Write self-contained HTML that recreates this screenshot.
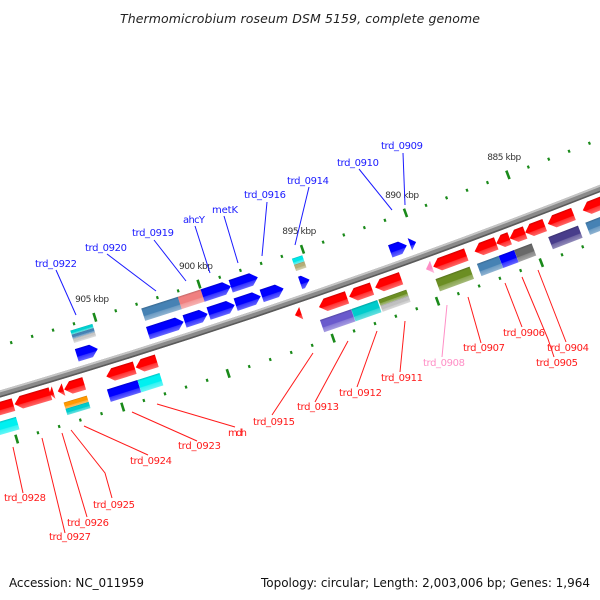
<!DOCTYPE html>
<html><head><meta charset="utf-8"><style>
html,body{margin:0;padding:0;background:#fff;width:600px;height:600px;overflow:hidden}
svg{display:block;overflow:hidden}
text{font-family:"DejaVu Sans","Liberation Sans",sans-serif}
</style></head><body>
<svg id="map" width="600" height="600" viewBox="0 0 600 600" xmlns="http://www.w3.org/2000/svg">
<defs id="defs"></defs>
<rect width="600" height="600" fill="#fff"/>
<text x="300" y="23" text-anchor="middle" font-size="12.5" font-style="italic" fill="#222" textLength="360">Thermomicrobium roseum DSM 5159, complete genome</text>
<g id="ticks"></g>
<g id="backbone"></g>
<g id="genes"></g>
<g id="labels" font-size="10">
<g stroke="#1a1aff" stroke-width="1" fill="none">
<line x1="56" y1="270" x2="76" y2="315"/>
<line x1="107" y1="254" x2="156" y2="291"/>
<line x1="154" y1="240" x2="186" y2="281"/>
<line x1="195" y1="226" x2="210" y2="273"/>
<line x1="224" y1="216" x2="238" y2="263"/>
<line x1="267" y1="202" x2="262" y2="256"/>
<line x1="309" y1="187" x2="295" y2="245"/>
<line x1="359" y1="169" x2="392" y2="210"/>
<line x1="403" y1="153" x2="405" y2="205"/>
</g>
<g fill="#1a1aff">
<text x="35" y="267" textLength="42">trd_0922</text>
<text x="85" y="251" textLength="42">trd_0920</text>
<text x="132" y="236" textLength="42">trd_0919</text>
<text x="183" y="223" textLength="22">ahcY</text>
<text x="212" y="213" textLength="26">metK</text>
<text x="244" y="198" textLength="42">trd_0916</text>
<text x="287" y="184" textLength="42">trd_0914</text>
<text x="337" y="166" textLength="42">trd_0910</text>
<text x="381" y="149" textLength="42">trd_0909</text>
</g>
<g stroke="#ff1a1a" stroke-width="1" fill="none">
<line x1="13" y1="447" x2="23" y2="493"/>
<line x1="42" y1="438" x2="65" y2="533"/>
<line x1="62" y1="433" x2="87" y2="517"/>
<polyline points="71,430 105,473 112,498"/>
<line x1="84" y1="426" x2="148" y2="455"/>
<line x1="132" y1="412" x2="197" y2="441"/>
<line x1="157" y1="404" x2="235" y2="427"/>
<line x1="313" y1="353" x2="272" y2="415"/>
<line x1="348" y1="341" x2="315" y2="402"/>
<line x1="377" y1="331" x2="357" y2="387"/>
<line x1="405" y1="321" x2="400" y2="372"/>
<line x1="468" y1="297" x2="481" y2="343"/>
<line x1="505" y1="283" x2="522" y2="327"/>
<polyline points="522,277 548,339 554,357"/>
<line x1="538" y1="270" x2="566" y2="342"/>
</g>
<line x1="447" y1="305" x2="442" y2="357" stroke="#ff8ec6" stroke-width="1"/>
<g fill="#ff1a1a">
<text x="4" y="501" textLength="42">trd_0928</text>
<text x="49" y="540" textLength="42">trd_0927</text>
<text x="67" y="526" textLength="42">trd_0926</text>
<text x="93" y="508" textLength="42">trd_0925</text>
<text x="130" y="464" textLength="42">trd_0924</text>
<text x="178" y="449" textLength="43">trd_0923</text>
<text x="228" y="436" textLength="19">mdh</text>
<text x="253" y="425" textLength="42">trd_0915</text>
<text x="297" y="410" textLength="42">trd_0913</text>
<text x="339" y="396" textLength="43">trd_0912</text>
<text x="381" y="381" textLength="42">trd_0911</text>
<text x="463" y="351" textLength="42">trd_0907</text>
<text x="503" y="336" textLength="42">trd_0906</text>
<text x="536" y="366" textLength="42">trd_0905</text>
<text x="547" y="351" textLength="42">trd_0904</text>
</g>
<text x="423" y="366" textLength="42" fill="#ff8ec6">trd_0908</text>
</g>
<text x="9" y="587" font-size="12" fill="#111" textLength="135">Accession: NC_011959</text>
<text x="261" y="587" font-size="12" fill="#111" textLength="329">Topology: circular; Length: 2,003,006 bp; Genes: 1,964</text>
</svg>
<script>
// genome-position data (kbp)
const tickKbp = [876,877,878,879,880,881,882,883,884,885,886,887,888,889,890,891,892,893,894,895,896,897,898,899,900,901,902,903,904,905,906,907,908,909,910,911,912,913];
const tickLabelKbp = [885,890,895,900,905];
const tickLabels = ["885 kbp","890 kbp","895 kbp","900 kbp","905 kbp"];
const geneStart = [905.3,901.2,900.05,898.75,897.5,896.4,895.15,890.45,890.0,
  905.2,901.1,900.0,898.65,897.35,895.1,
  909.7,907.95,907.8,907.33,906.35,903.95,902.9,896.0,893.8,892.6,891.2,889.7,888.05,886.6,885.95,885.2,884.25,882.85,881.0,
  909.75,906.4,904.0,902.95,893.8,892.55,891.15,888.1,886.7,885.95,885.1,882.85,881.0];
const geneEnd = [906.3,902.9,901.15,900.0,898.7,897.45,895.6,891.25,890.3,
  906.25,902.85,901.1,900.0,898.65,895.6,
  911.0,909.65,908.0,907.6,907.3,905.3,903.9,896.3,895.15,893.7,892.45,890.0,889.65,887.65,886.6,885.95,885.2,884.1,882.4,
  911.0,907.5,905.45,904.0,895.3,893.8,892.5,889.75,887.75,886.7,885.95,884.3,882.5];
const geneRow = ["ui","ui","ui","ui","ui","ui","ui","ui","ui",
  "uo","uo","uo","uo","uo","uo",
  "li","li","li","li","li","li","li","li","li","li","li","li","li","li","li","li","li","li","li",
  "lo","lo","lo","lo","lo","lo","lo","lo","lo","lo","lo","lo","lo"];
const geneShape = ["arrow","arrow","arrow","arrow","arrow","arrow","arrow","arrow","arrow",
  "box","box","box","arrow","arrow","box",
  "arrow","arrow","arrow","arrow","arrow","arrow","arrow","arrow","arrow","arrow","arrow","arrow","arrow","arrow","arrow","arrow","arrow","arrow","arrow",
  "box","box","box","box","box","box","box","box","box","box","box","box","box"];
const geneColor = ["#0000ff","#0000ff","#0000ff","#0000ff","#0000ff","#0000ff","#0000ff","#0000ff","#0000ff",
  "#00d0d0|#4682b4|#c8c8c8","#4682b4","#f08080","#0000ff","#0000ff","#00e8e8|#b5ad78",
  "#ff0000","#ff0000","#ff0000","#ff0000","#ff0000","#ff0000","#ff0000","#ff0000","#ff0000","#ff0000","#ff0000","#ff8ec6","#ff0000","#ff0000","#ff0000","#ff0000","#ff0000","#ff0000","#ff0000",
  "#00f0f0","#ff9900|#00cccc","#0000ff","#00f0f0","#6a5acd","#00cccc","#6b8e23|#c0c0c0","#6b8e23","#4682b4","#0000ff","#696969","#483d8b","#4682b4"];

const NS="http://www.w3.org/2000/svg";
const CX=-1969, CY=-6337, R0=7013, K0=900, TH0=71.87, DEG=0.1797;
const PX=R0*DEG*Math.PI/180;
const ROWV={ui:-15,uo:-34,li:14,lo:33};
const ROWDIR={ui:1,uo:1,li:-1,lo:-1};
function ang(k){return (TH0+(k-K0)*DEG)*Math.PI/180;}
function pt(k,r){const a=ang(k);return [CX+r*Math.cos(a),CY+r*Math.sin(a)];}
function rotDeg(k){return ang(k)*180/Math.PI-90;}
function mk(tag,attrs,parent){const e=document.createElementNS(NS,tag);for(const a in attrs)e.setAttribute(a,attrs[a]);parent.appendChild(e);return e;}
function shade(hex,f){let r=parseInt(hex.substr(1,2),16),g=parseInt(hex.substr(3,2),16),b=parseInt(hex.substr(5,2),16);
  if(f<0){r*=1+f;g*=1+f;b*=1+f;}else{r+=(255-r)*f;g+=(255-g)*f;b+=(255-b)*f;}
  return "rgb("+Math.round(r)+","+Math.round(g)+","+Math.round(b)+")";}
const defs=document.getElementById('defs');const gradCache={};
function grad(c){if(gradCache[c])return gradCache[c];const id="g"+Object.keys(gradCache).length;
  const lg=mk('linearGradient',{id:id,x1:0,y1:0,x2:0,y2:1},defs);
  mk('stop',{offset:0,'stop-color':shade(c,-0.2)},lg);
  mk('stop',{offset:0.15,'stop-color':c},lg);
  mk('stop',{offset:0.6,'stop-color':c},lg);
  mk('stop',{offset:0.65,'stop-color':shade(c,0.2)},lg);
  mk('stop',{offset:1,'stop-color':shade(c,0.4)},lg);
  gradCache[c]="url(#"+id+")";return gradCache[c];}

// backbone
const bb=document.getElementById('backbone');
let e;
e=mk('circle',{cx:CX,cy:CY,r:R0,fill:'none',stroke:'#8a8a8a','stroke-width':7},bb);


e=mk('circle',{cx:CX,cy:CY,r:R0-2.5,fill:'none',stroke:'#c4c4c4','stroke-width':2},bb);


e=mk('circle',{cx:CX,cy:CY,r:R0+2.7,fill:'none',stroke:'#5a5a5a','stroke-width':1.6},bb);



// ticks
const tg=document.getElementById('ticks');
tickKbp.forEach(k=>{
  const major=k%5===0;
  [R0-46,R0+48].forEach(r=>{
    const p=pt(k,r);
    const g=mk('g',{transform:`translate(${p[0].toFixed(2)},${p[1].toFixed(2)}) rotate(${rotDeg(k).toFixed(3)})`},tg);
    const h=major?9:3;
    const t=mk('rect',{x:major?-1.3:-1.1,y:-h/2,width:major?2.6:2.2,height:h,fill:'#1a8a1a'},g);
    
    
  });
});
tickLabelKbp.forEach((k,i)=>{
  const p=pt(k,R0-62);
  const t=mk('text',{x:(p[0]+2).toFixed(1),y:p[1].toFixed(1),'text-anchor':'middle','font-size':'9',fill:'#333',textLength:34},tg);
  t.textContent=tickLabels[i];
  
  
});

// genes
const gg=document.getElementById('genes');
geneStart.forEach((k1,i)=>{
  const k2=geneEnd[i],row=geneRow[i],kc=(k1+k2)/2,p=pt(kc,R0);
  const w=(k2-k1)*PX,vc=ROWV[row],h=13,y0=vc-h/2,y1=vc+h/2,dir=ROWDIR[row];
  const g=mk('g',{transform:`translate(${p[0].toFixed(2)},${p[1].toFixed(2)}) rotate(${rotDeg(kc).toFixed(3)})`},gg);
  
  
  const cols=geneColor[i].split('|');
  if(geneShape[i]==='arrow'){
    const hd=Math.min(7,w),a=-w/2*dir,b=w/2*dir,c=(w/2-hd)*dir;
    const pts=[[a,y0],[c,y0],[b,vc],[c,y1],[a,y1]].map(q=>q[0].toFixed(2)+','+q[1].toFixed(2)).join(' ');
    const s=mk('polygon',{points:pts,fill:grad(cols[0])},g);
    
    
  } else {
    const sh=h/cols.length;
    cols.forEach((c,j)=>{
      const s=mk('rect',{x:-w/2,y:y0+j*sh,width:w,height:sh,fill:grad(c)},g);
      
      
    });
  }
});
</script>
</body></html>
